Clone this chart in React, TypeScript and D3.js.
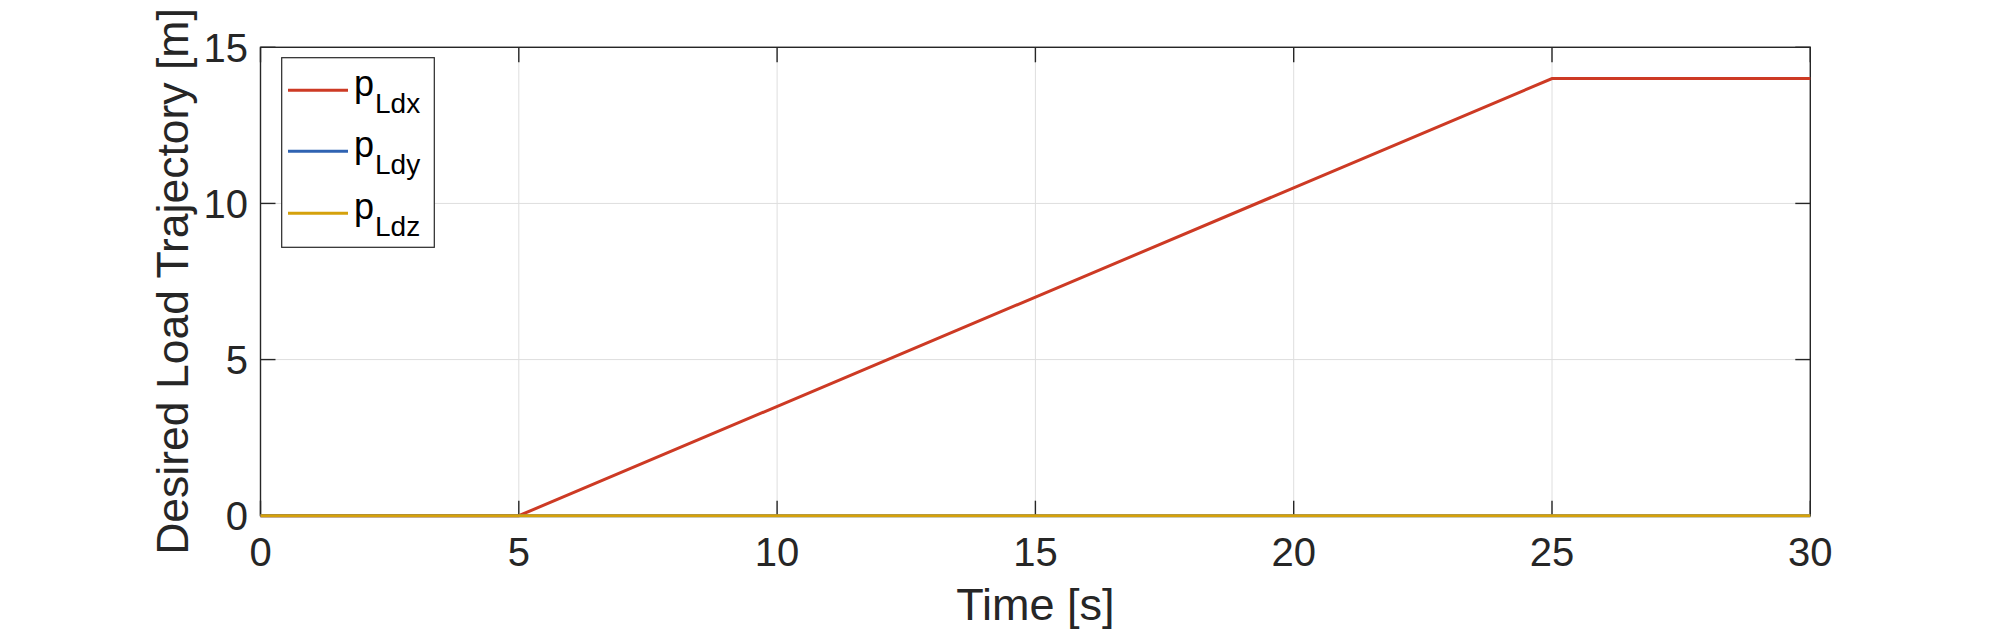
import React, { useRef, useEffect } from 'react';
import * as d3 from 'd3';

// time samples [s] and the desired load trajectory components [m]
const timeS = [0, 5, 25, 30];
const pLdx = [0, 0, 14, 14];
const pLdy = [0, 0, 0, 0];
const pLdz = [0, 0, 0, 0];

const xTicks = [0, 5, 10, 15, 20, 25, 30];
const yTicks = [0, 5, 10, 15];

const seriesNames = ['Ldx', 'Ldy', 'Ldz'];
const seriesColors = ['#CD3A24', '#2F63B2', '#D5A10B'];

const W = 2000;
const H = 630;
const FONT = '"Liberation Sans", Arial, Helvetica, sans-serif';

const App = () => {
  const svgRef = useRef<SVGSVGElement>(null);

  useEffect(() => {
    const svg = d3.select(svgRef.current);
    svg.selectAll('*').remove();

    const left = 260.5, right = 1810.3, top = 47.3, bottom = 515.7;
    const tickLen = 15;
    const axisColor = '#262626';

    const x = d3.scaleLinear().domain([0, 30]).range([left, right]);
    const y = d3.scaleLinear().domain([0, 15]).range([bottom, top]);

    svg.append('rect').attr('width', W).attr('height', H).attr('fill', '#fff');

    // grid
    const grid = svg.append('g').attr('stroke', '#DEDEDE').attr('stroke-width', 1);
    xTicks.forEach(t => {
      grid.append('line').attr('x1', x(t)).attr('x2', x(t)).attr('y1', top).attr('y2', bottom);
    });
    yTicks.forEach(t => {
      grid.append('line').attr('x1', left).attr('x2', right).attr('y1', y(t)).attr('y2', y(t));
    });

    // box + ticks
    const ax = svg.append('g').attr('stroke', axisColor).attr('stroke-width', 1.4).attr('fill', 'none');
    ax.append('rect')
      .attr('x', left).attr('y', top)
      .attr('width', right - left).attr('height', bottom - top);
    xTicks.forEach(t => {
      ax.append('line').attr('x1', x(t)).attr('x2', x(t)).attr('y1', bottom).attr('y2', bottom - tickLen);
      ax.append('line').attr('x1', x(t)).attr('x2', x(t)).attr('y1', top).attr('y2', top + tickLen);
    });
    yTicks.forEach(t => {
      ax.append('line').attr('x1', left).attr('x2', left + tickLen).attr('y1', y(t)).attr('y2', y(t));
      ax.append('line').attr('x1', right).attr('x2', right - tickLen).attr('y1', y(t)).attr('y2', y(t));
    });

    // lines (drawn over the box, as in the original)
    const series = [pLdx, pLdy, pLdz];
    series.forEach((vals, i) => {
      const line = d3.line<number>()
        .x((_, j) => x(timeS[j]))
        .y(d => y(d));
      svg.append('path')
        .datum(vals)
        .attr('fill', 'none')
        .attr('stroke', seriesColors[i])
        .attr('stroke-width', 3)
        .attr('d', line);
    });

    // tick labels
    svg.append('g')
      .selectAll('text')
      .data(xTicks)
      .join('text')
      .attr('x', d => x(d))
      .attr('y', 566)
      .attr('text-anchor', 'middle')
      .attr('font-family', FONT)
      .attr('font-size', 40)
      .attr('fill', axisColor)
      .text(d => d);

    svg.append('g')
      .selectAll('text')
      .data(yTicks)
      .join('text')
      .attr('x', 248)
      .attr('y', d => y(d))
      .attr('dy', '0.36em')
      .attr('text-anchor', 'end')
      .attr('font-family', FONT)
      .attr('font-size', 40)
      .attr('fill', axisColor)
      .text(d => d);

    // axis labels
    svg.append('text')
      .attr('x', (left + right) / 2)
      .attr('y', 620)
      .attr('text-anchor', 'middle')
      .attr('font-family', FONT)
      .attr('font-size', 45)
      .attr('fill', axisColor)
      .text('Time [s]');

    svg.append('text')
      .attr('transform', `translate(188,${(top + bottom) / 2}) rotate(-90)`)
      .attr('text-anchor', 'middle')
      .attr('font-family', FONT)
      .attr('font-size', 44.5)
      .attr('fill', axisColor)
      .text('Desired Load Trajectory [m]');

    // legend
    const lg = svg.append('g');
    lg.append('rect')
      .attr('x', 281.7).attr('y', 57.7)
      .attr('width', 152.6).attr('height', 189.6)
      .attr('fill', '#fff')
      .attr('stroke', axisColor)
      .attr('stroke-width', 1.2);
    const rowY = [90.3, 151.3, 213.3];
    seriesNames.forEach((name, i) => {
      lg.append('line')
        .attr('x1', 288).attr('x2', 348)
        .attr('y1', rowY[i]).attr('y2', rowY[i])
        .attr('stroke', seriesColors[i])
        .attr('stroke-width', 3);
      const t = lg.append('text')
        .attr('x', 354)
        .attr('y', rowY[i] + 6)
        .attr('font-family', FONT)
        .attr('fill', '#000');
      t.append('tspan').attr('font-size', 36).text('p');
      t.append('tspan').attr('font-size', 28).attr('dx', 1).attr('dy', 17).text(name);
    });
  }, []);

  return (
    <div style={{ position: 'absolute', left: 0, top: 0, width: W, height: H }}>
      <svg ref={svgRef} width={W} height={H} style={{ display: 'block' }}></svg>
    </div>
  );
};

export default App;
